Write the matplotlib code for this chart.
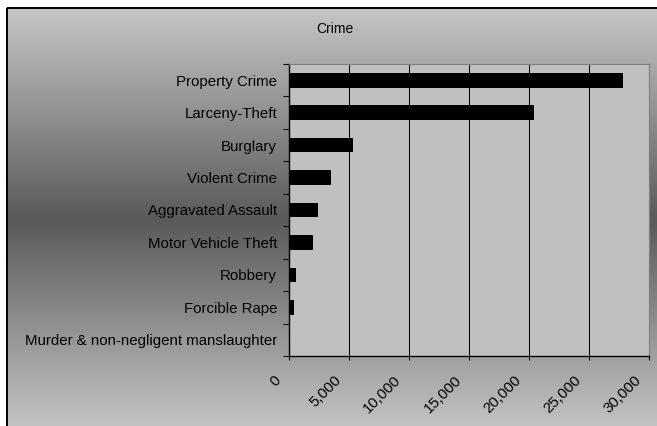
import matplotlib
matplotlib.use("Agg")
import matplotlib.pyplot as plt
import numpy as np
from matplotlib.transforms import ScaledTranslation

plt.rcParams["font.family"] = ["Liberation Sans", "DejaVu Sans"]

# Offense categories, top to bottom, and their counts
categories = [
    "Property Crime",
    "Larceny-Theft",
    "Burglary",
    "Violent Crime",
    "Aggravated Assault",
    "Motor Vehicle Theft",
    "Robbery",
    "Forcible Rape",
    "Murder & non-negligent manslaughter",
]
offenses = [27800, 20400, 5350, 3480, 2400, 2050, 640, 420, 30]

x_ticks = [0, 5000, 10000, 15000, 20000, 25000, 30000]
x_tick_labels = ["0", "5,000", "10,000", "15,000", "20,000", "25,000", "30,000"]

W, H = 657, 426
fig = plt.figure(figsize=(W / 100, H / 100), dpi=100)
fig.patch.set_facecolor("white")

# Chart-area background: light-dark-light vertical gradient with a black frame
bg = fig.add_axes([0, 0, 1, 1])
bg.set_zorder(-10)
bg.set_xlim(0, W)
bg.set_ylim(H, 0)
bg.axis("off")
top, mid, bottom = 7.0, 220.0, 433.0
yy = np.linspace(top, H, 500)
f = np.where(yy < mid, (yy - top) / (mid - top), (bottom - yy) / (bottom - mid))
f = np.clip(f, 0, 1)
light, dark = 0xC6 / 255, 0x5A / 255
g = light + (dark - light) * f
img = np.dstack([np.repeat(g[:, None], 2, axis=1)] * 3)
bg.imshow(img, extent=(6, W, H, top), aspect="auto", interpolation="bilinear")
bg.plot([6.5, 6.5], [H, 7.5], color="black", lw=1.4, solid_capstyle="butt")
bg.plot([6.5, W], [7.5, 7.5], color="black", lw=1.4, solid_capstyle="butt")

# Plot area
ax = fig.add_axes([288.7 / W, 1 - 356 / H, (649.3 - 288.7) / W, (356 - 64) / H])
ax.set_facecolor("#c0c0c0")
ypos = np.arange(len(categories))
ax.barh(ypos, offenses, height=0.45, color="black", zorder=3)
ax.set_xlim(x_ticks[0], x_ticks[-1])
ax.set_ylim(len(categories) - 0.5, -0.5)

ax.grid(axis="x", color="black", lw=0.75)
ax.set_axisbelow(True)

ax.set_xticks(x_ticks)
ax.set_xticklabels(x_tick_labels, rotation=45, ha="right", va="center",
                   rotation_mode="anchor", fontsize=10.8)
ax.tick_params(axis="x", length=3, width=0.75, direction="out", pad=13, colors="black")
shift = ScaledTranslation(-10 / 100, 0, fig.dpi_scale_trans)
for lab in ax.get_xticklabels():
    lab.set_transform(lab.get_transform() + shift)

ax.set_yticks(ypos)
ax.set_yticklabels(categories, fontsize=10.8)
ax.tick_params(axis="y", which="major", length=0, pad=8.4)
ax.set_yticks(np.arange(-0.5, len(categories), 1), minor=True)
ax.tick_params(axis="y", which="minor", length=4, width=0.75, direction="out", color="black")

ax.spines["left"].set_color("black")
ax.spines["bottom"].set_color("black")
ax.spines["left"].set_linewidth(1.0)
ax.spines["bottom"].set_linewidth(1.0)
ax.spines["top"].set_color("#808080")
ax.spines["right"].set_color("#808080")

fig.text(335 / W, 1 - 29 / H, "Crime", ha="center", va="center", fontsize=10)

fig.savefig("out.png", dpi=100)
